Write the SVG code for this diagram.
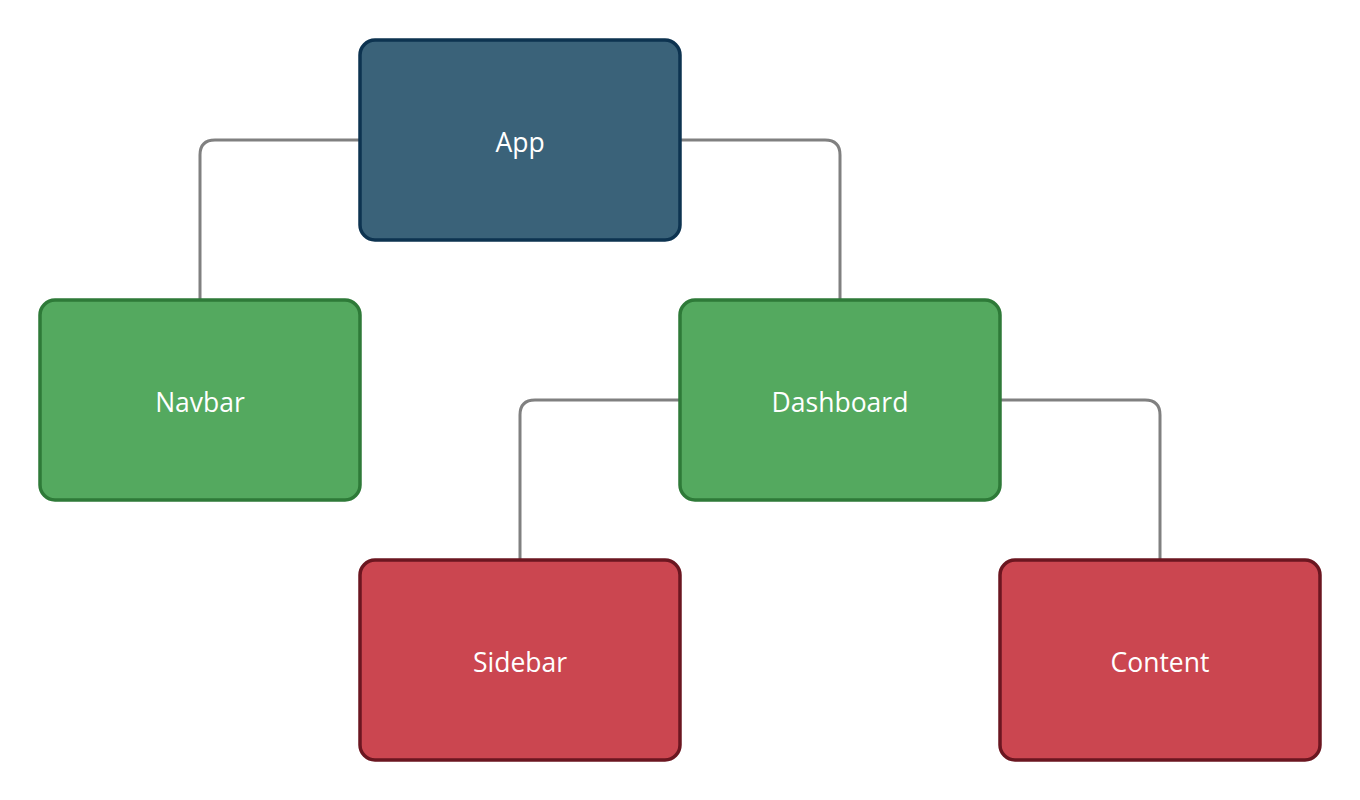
<svg xmlns="http://www.w3.org/2000/svg" width="1360" height="800" viewBox="0 0 1360 800">
<style>
.edge{fill:none;stroke:#808080;stroke-width:3}
.box{stroke-width:3.5}
.blue{fill:#3a6279;stroke:#0d3350}
.green{fill:#54a95f;stroke:#2e7a38}
.red{fill:#cb4650;stroke:#6b1620}
.lbl{font-family:"Open Sans",sans-serif;font-size:26.5px;font-weight:500;fill:#ffffff;text-anchor:middle;dominant-baseline:central}
</style>
<rect width="1360" height="800" fill="#ffffff"/>
<g id="connectors">
<path class="edge" d="M360 140 H215 Q200 140 200 155 V300"/>
<path class="edge" d="M680 140 H825 Q840 140 840 155 V300"/>
<path class="edge" d="M680 400 H535 Q520 400 520 415 V560"/>
<path class="edge" d="M1000 400 H1145 Q1160 400 1160 415 V560"/>
</g>
<g id="app"><rect class="box blue" x="360" y="40" width="320" height="200" rx="15"/><text class="lbl" x="520" y="141.5">App</text></g>
<g id="navbar"><rect class="box green" x="40" y="300" width="320" height="200" rx="15"/><text class="lbl" x="200" y="401.5">Navbar</text></g>
<g id="dashboard"><rect class="box green" x="680" y="300" width="320" height="200" rx="15"/><text class="lbl" x="840" y="401.5">Dashboard</text></g>
<g id="sidebar"><rect class="box red" x="360" y="560" width="320" height="200" rx="15"/><text class="lbl" x="520" y="661.5">Sidebar</text></g>
<g id="content"><rect class="box red" x="1000" y="560" width="320" height="200" rx="15"/><text class="lbl" x="1160" y="661.5">Content</text></g>
</svg>
